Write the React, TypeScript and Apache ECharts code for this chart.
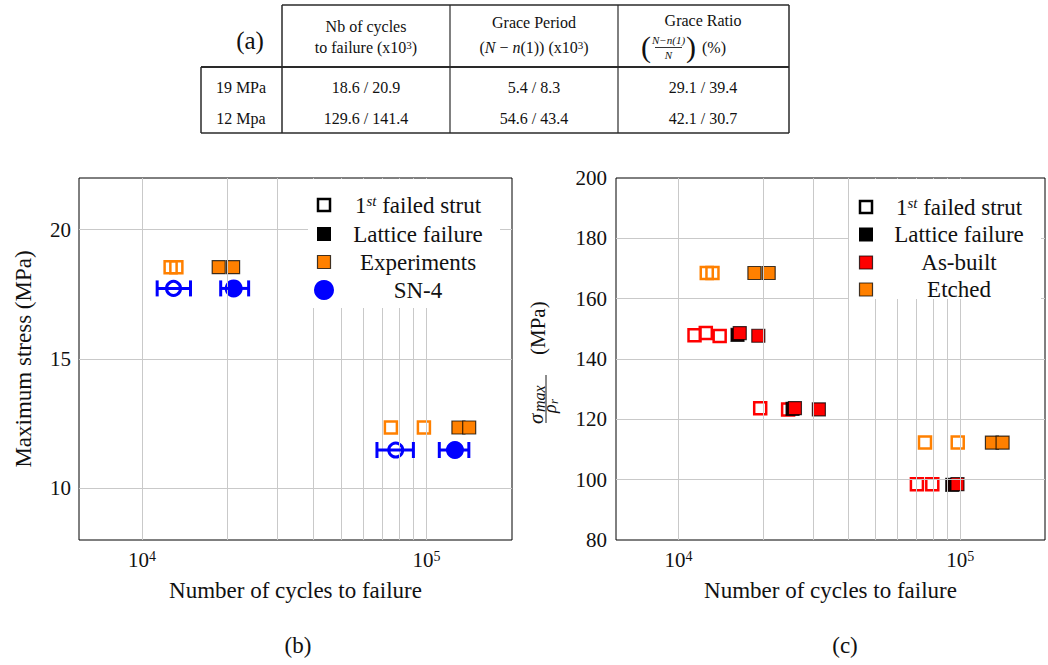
import React, { useEffect, useRef } from 'react';
import * as echarts from 'echarts';

const SERIF = 'Liberation Serif, Times New Roman, serif';
const ORANGE = '#ff8000';
const RED = '#ff0000';
const BLUE = '#0000ff';
const GRID_GRAY = '#c9c9c9';
const EDGE = 'rgba(0,0,0,0.75)';
const INK = '#111';

// ---------- (a) table texts ----------
const tableCorner = '(a)';
const rowLabels = ['19 MPa', '12 Mpa'];
const cyclesToFailure = ['18.6 / 20.9', '129.6 / 141.4'];
const gracePeriod = ['5.4 / 8.3', '54.6 / 43.4'];
const graceRatio = ['29.1 / 39.4', '42.1 / 30.7'];

// ---------- axes ----------
const xMin = 6000;
const xMax = 200000;
const xGridValues = [10000, 20000, 30000, 40000, 50000, 60000, 70000, 80000, 90000, 100000];
const bYMin = 8;
const bYMax = 22;
const bYTicks = [10, 15, 20];
const cYMin = 80;
const cYMax = 200;
const cYStep = 20;
const cYGrid = [100, 120, 140, 160, 180];

// ---------- (b) data ----------
const bExpOpen = [[12600, 18.55], [13200, 18.55], [75000, 12.35], [98000, 12.35]];
const bExpFilled = [[18600, 18.55], [20900, 18.55], [129600, 12.35], [141400, 12.35]];
// [x, y, xLow, xHigh]
const bSnOpen = [[12900, 17.73, 11300, 14800], [78000, 11.48, 67000, 90000]];
const bSnFilled = [[21000, 17.73, 18900, 23700], [126000, 11.48, 111000, 141000]];

// ---------- (c) data ----------
const cEtchedOpen = [[12600, 168.5], [13200, 168.5], [75000, 112.3], [98000, 112.3]];
const cEtchedFilled = [[18600, 168.5], [20900, 168.5], [129600, 112.3], [141400, 112.3]];
const cBuiltOpen = [[11400, 147.9], [12500, 148.6], [14000, 147.6], [19500, 123.7], [24500, 123.3], [70200, 98.5], [79600, 98.5]];
const cLatticeBlack = [[16200, 148.0], [25400, 123.5], [93700, 98.3]];
const cBuiltFilled = [[16500, 148.6], [19200, 147.7], [25900, 123.7], [31500, 123.3], [97800, 98.5]];

const legendBLabels = ['1st', 'Lattice failure', 'Experiments', 'SN-4'];
const legendCLabels = ['1st', 'Lattice failure', 'As-built', 'Etched'];

function xAxisDef(gridIndex: number) {
  return {
    type: 'log',
    logBase: 10,
    gridIndex,
    min: xMin,
    max: xMax,
    axisLine: { show: false },
    axisTick: { show: false },
    splitLine: { show: false },
    minorTick: { show: false },
    minorSplitLine: { show: false },
    axisLabel: {
      margin: 9,
      formatter: (v: number) => {
        const e = Math.round(Math.log10(v));
        return Math.abs(v / Math.pow(10, e) - 1) < 1e-6 ? `{b|10}{s|${e}}` : '';
      },
      rich: {
        b: { fontSize: 21, fontFamily: SERIF, color: INK },
        s: { fontSize: 14, fontFamily: SERIF, color: INK, verticalAlign: 'top' },
      },
    },
    name: 'Number of cycles to failure',
    nameLocation: 'middle',
    nameGap: 39,
    nameTextStyle: { fontSize: 23, fontFamily: SERIF, color: INK },
  };
}

function gridLines(xi: number, yi: number, yLines: number[]) {
  return {
    type: 'line',
    xAxisIndex: xi,
    yAxisIndex: yi,
    data: [],
    z: 1,
    silent: true,
    markLine: {
      silent: true,
      symbol: ['none', 'none'],
      label: { show: false },
      emphasis: { disabled: true },
      lineStyle: { color: GRID_GRAY, width: 1, type: 'solid' },
      data: [...xGridValues.map((v) => ({ xAxis: v })), ...yLines.map((v) => ({ yAxis: v }))],
    },
  };
}

function squares(data: number[][], xi: number, yi: number, open: boolean, color: string, z: number, edge = EDGE) {
  return {
    type: 'scatter',
    xAxisIndex: xi,
    yAxisIndex: yi,
    data,
    symbol: 'rect',
    symbolSize: open ? 12 : 13,
    silent: true,
    z,
    itemStyle: open
      ? { color: 'rgba(0,0,0,0)', borderColor: color, borderWidth: 2.5, opacity: 1 }
      : { color, borderColor: edge, borderWidth: 1.2, opacity: 1 },
  };
}

function circles(data: number[][], open: boolean) {
  return {
    type: 'scatter',
    xAxisIndex: 0,
    yAxisIndex: 0,
    data,
    encode: { x: 0, y: 1 },
    symbol: 'circle',
    symbolSize: open ? 14 : 18,
    silent: true,
    z: 4,
    itemStyle: open
      ? { color: 'rgba(0,0,0,0)', borderColor: BLUE, borderWidth: 3, opacity: 1 }
      : { color: BLUE, borderWidth: 0, opacity: 1 },
  };
}

function errorBars(data: number[][]) {
  return {
    type: 'custom',
    xAxisIndex: 0,
    yAxisIndex: 0,
    data,
    encode: { x: [0, 2, 3], y: 1 },
    silent: true,
    z: 5,
    renderItem: (_p: any, api: any) => {
      const y = api.value(1);
      const a = api.coord([api.value(2), y]);
      const b = api.coord([api.value(3), y]);
      const cap = 8;
      const style = { stroke: BLUE, lineWidth: 3, fill: 'none' };
      return {
        type: 'group',
        children: [
          { type: 'line', shape: { x1: a[0], y1: a[1], x2: b[0], y2: b[1] }, style },
          { type: 'line', shape: { x1: a[0], y1: a[1] - cap, x2: a[0], y2: a[1] + cap }, style },
          { type: 'line', shape: { x1: b[0], y1: b[1] - cap, x2: b[0], y2: b[1] + cap }, style },
        ],
      };
    },
  };
}

const Z = 100;
function txt(text: string, x: number, y: number, size: number, extra: any = {}) {
  return {
    type: 'text',
    x,
    y,
    z: Z,
    silent: true,
    style: { text, fontSize: size, fontFamily: SERIF, fill: INK, align: 'center', verticalAlign: 'middle', ...extra },
  };
}
function ln(x1: number, y1: number, x2: number, y2: number, w = 1.5, color = '#2a2a2a') {
  return { type: 'line', z: Z, silent: true, shape: { x1, y1, x2, y2 }, style: { stroke: color, lineWidth: w } };
}

function legendMarker(kind: string, cx: number, cy: number) {
  if (kind === 'open') {
    return { type: 'rect', z: Z + 1, shape: { x: cx - 6, y: cy - 6, width: 12, height: 12 }, style: { fill: 'none', stroke: '#000', lineWidth: 2.5 } };
  }
  if (kind === 'black') {
    return { type: 'rect', z: Z + 1, shape: { x: cx - 7, y: cy - 7, width: 14, height: 14 }, style: { fill: '#000' } };
  }
  if (kind === 'circle') {
    return { type: 'circle', z: Z + 1, shape: { cx, cy, r: 10 }, style: { fill: BLUE } };
  }
  return { type: 'rect', z: Z + 1, shape: { x: cx - 6.5, y: cy - 6.5, width: 13, height: 13 }, style: { fill: kind, stroke: EDGE, lineWidth: 1.2 } };
}

function legendText(label: string, x: number, y: number) {
  if (label === '1st') {
    return {
      type: 'text',
      x,
      y,
      z: Z + 1,
      style: {
        text: '{b|1}{s|st}{b| failed strut}',
        align: 'center',
        verticalAlign: 'middle',
        fill: INK,
        fontSize: 23,
        fontFamily: SERIF,
        rich: {
          b: { fontSize: 23, fontFamily: SERIF, fill: INK },
          s: { fontSize: 15, fontFamily: SERIF, fontStyle: 'italic', fill: INK, verticalAlign: 'top' },
        },
      },
    };
  }
  return { ...txt(label, x, y, 23), z: Z + 1 };
}

function legendBlock(x0: number, x1: number, y0: number, y1: number, mx: number, tx: number, rows: number[], kinds: string[], labels: string[]) {
  const els: any[] = [{ type: 'rect', z: Z, shape: { x: x0, y: y0, width: x1 - x0, height: y1 - y0 }, style: { fill: '#fff' } }];
  rows.forEach((ry, i) => {
    els.push(legendMarker(kinds[i], mx, ry));
    els.push(legendText(labels[i], tx, ry));
  });
  return els;
}

function tableGraphics() {
  const els: any[] = [];
  els.push(ln(282, 5, 789, 5));
  els.push(ln(201, 67, 789, 67, 2.2));
  els.push(ln(201, 133, 789, 133));
  els.push(ln(201, 67, 201, 133));
  els.push(ln(282, 5, 282, 133));
  els.push(ln(450, 5, 450, 133, 1.2));
  els.push(ln(618, 5, 618, 133, 1.2));
  els.push(ln(789, 5, 789, 133));
  els.push(txt(tableCorner, 250, 40, 25));
  const sup = {
    i: { fontSize: 16, fontFamily: SERIF, fontStyle: 'italic', fill: INK },
    s: { fontSize: 11, fontFamily: SERIF, fill: INK, verticalAlign: 'top' },
    n: { fontSize: 16, fontFamily: SERIF, fill: INK },
  };
  els.push(txt('Nb of cycles', 366, 26, 16));
  els.push(txt('{n|to failure (x10}{s|3}{n|)}', 366, 47, 16, { rich: sup }));
  els.push(txt('Grace Period', 534, 22, 16));
  els.push(txt('{n|(}{i|N}{n| − }{i|n}{n|(1)) (x10}{s|3}{n|)}', 534, 47, 16, { rich: sup }));
  els.push(txt('Grace Ratio', 703, 20, 16));
  els.push(txt('(', 646, 46, 30));
  els.push(txt(')', 691, 46, 30));
  els.push(txt('N−n(1)', 668.5, 40, 11, { fontStyle: 'italic' }));
  els.push(ln(655, 47.5, 682, 47.5, 0.8, '#000'));
  els.push(txt('N', 668.5, 55, 11, { fontStyle: 'italic' }));
  els.push(txt('(%)', 714, 47, 16));
  const rowsY = [87, 118];
  rowsY.forEach((y, r) => {
    els.push(txt(rowLabels[r], 241, y, 16));
    els.push(txt(cyclesToFailure[r], 366, y, 16));
    els.push(txt(gracePeriod[r], 534, y, 16));
    els.push(txt(graceRatio[r], 703, y, 16));
  });
  return els;
}

function cYLabel() {
  const it = (t: string, x: number, y: number, size: number) => ({
    type: 'text',
    x,
    y,
    style: { text: t, fontSize: size, fontFamily: SERIF, fontStyle: 'italic', fill: INK, align: 'left', verticalAlign: 'middle' },
  });
  return {
    type: 'group',
    x: 546,
    y: 399,
    rotation: Math.PI / 2,
    z: Z,
    silent: true,
    children: [
      { type: 'line', shape: { x1: -24, y1: 0, x2: 24, y2: 0 }, style: { stroke: '#000', lineWidth: 0.9 } },
      it('σ', -25, -3 - 0.3375 * 21, 21),
      it('max', -13, -1.5 - 0.3375 * 16, 16),
      it('ρ', -14, 10 - 0.3375 * 18, 18),
      it('r', -5, 12 - 0.3375 * 13, 13),
      {
        type: 'text',
        x: 44,
        y: -1 - 0.3375 * 21,
        style: { text: '(MPa)', fontSize: 21, fontFamily: SERIF, fill: INK, align: 'left', verticalAlign: 'middle' },
      },
    ],
  };
}

function buildOption() {
  const tickLabel = { fontSize: 21, fontFamily: SERIF, color: INK };
  return {
    animation: false,
    backgroundColor: '#fff',
    textStyle: { fontFamily: SERIF },
    grid: [
      { left: 79, top: 178, width: 433, height: 362, show: true, borderColor: '#000', borderWidth: 1, backgroundColor: 'rgba(0,0,0,0)' },
      { left: 616, top: 178, width: 435, height: 362, show: true, borderColor: '#000', borderWidth: 1, backgroundColor: 'rgba(0,0,0,0)' },
    ],
    xAxis: [xAxisDef(0), xAxisDef(1)],
    yAxis: [
      {
        type: 'value',
        gridIndex: 0,
        min: bYMin,
        max: bYMax,
        interval: 1,
        axisLine: { show: false },
        axisTick: { show: false },
        splitLine: { show: false },
        axisLabel: { ...tickLabel, margin: 8, formatter: (v: number) => (bYTicks.includes(v) ? String(v) : '') },
        name: 'Maximum stress (MPa)',
        nameLocation: 'middle',
        nameRotate: 90,
        nameGap: 44,
        nameTextStyle: { fontSize: 23, fontFamily: SERIF, color: INK },
      },
      {
        type: 'value',
        gridIndex: 1,
        min: cYMin,
        max: cYMax,
        interval: cYStep,
        axisLine: { show: false },
        axisTick: { show: false },
        splitLine: { show: false },
        axisLabel: { ...tickLabel, margin: 9 },
      },
    ],
    series: [
      gridLines(0, 0, bYTicks),
      gridLines(1, 1, cYGrid),
      squares(bExpOpen, 0, 0, true, ORANGE, 3),
      squares(bExpFilled, 0, 0, false, ORANGE, 3),
      circles(bSnOpen, true),
      circles(bSnFilled, false),
      errorBars(bSnOpen),
      errorBars(bSnFilled),
      squares(cEtchedOpen, 1, 1, true, ORANGE, 3),
      squares(cEtchedFilled, 1, 1, false, ORANGE, 3),
      squares(cBuiltOpen, 1, 1, true, RED, 3),
      squares(cLatticeBlack, 1, 1, false, '#1a0000', 3),
      squares(cBuiltFilled, 1, 1, false, RED, 4),
    ],
    graphic: [
      ...tableGraphics(),
      ...legendBlock(308, 500, 179, 308, 324, 418, [205, 234, 262, 290], ['open', 'black', ORANGE, 'circle'], legendBLabels),
      ...legendBlock(849, 1041, 179, 299, 866, 959, [207, 234.5, 262.5, 289.5], ['open', 'black', RED, ORANGE], legendCLabels),
      cYLabel(),
      txt('(b)', 298, 645, 23),
      txt('(c)', 845, 645, 23),
    ],
  };
}

export default function App() {
  const ref = useRef<HTMLDivElement>(null);
  useEffect(() => {
    if (!ref.current) return;
    const chart = echarts.init(ref.current, null, { renderer: 'svg' });
    chart.setOption(buildOption() as any);
    return () => chart.dispose();
  }, []);
  return (
    <div
      ref={ref}
      style={{ position: 'fixed', left: 0, top: 0, width: 1048, height: 665, background: '#fff' }}
    />
  );
}
